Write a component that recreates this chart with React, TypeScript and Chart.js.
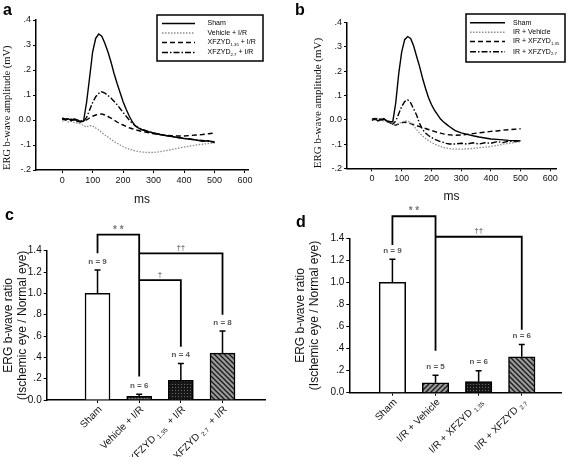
import React, { useEffect, useRef } from 'react';
import { Chart, registerables } from 'chart.js';

Chart.register(...registerables);

const SANS = '"Liberation Sans", Arial, Helvetica, sans-serif';
const SERIF = '"Liberation Serif", "Times New Roman", serif';

// ---------- DATA: ERG waveforms (panels a, b) ----------
const msTimes = [0, 10, 20, 30, 40, 50, 60, 70, 80, 90, 100, 110, 120, 130, 140, 150, 160, 170, 180, 190, 200, 210, 220, 230, 240, 250, 260, 280, 300, 320, 340, 360, 380, 400, 420, 440, 460, 480, 500];
const msTicks = [0, 100, 200, 300, 400, 500, 600];
const ampTicks = [-0.2, -0.1, 0, 0.1, 0.2, 0.3, 0.4];

const shamA = [0.005, 0.0, 0.005, -0.003, 0.003, -0.005, -0.008, -0.005, 0.07, 0.17, 0.273, 0.327, 0.344, 0.335, 0.307, 0.273, 0.233, 0.187, 0.147, 0.11, 0.073, 0.043, 0.016, -0.007, -0.024, -0.032, -0.038, -0.046, -0.052, -0.058, -0.062, -0.066, -0.07, -0.074, -0.077, -0.08, -0.085, -0.083, -0.09];
const vehicleA = [-0.005, 0.0, -0.008, -0.005, -0.01, -0.012, -0.015, -0.022, -0.028, -0.022, -0.024, -0.032, -0.04, -0.05, -0.06, -0.068, -0.077, -0.086, -0.093, -0.1, -0.107, -0.112, -0.117, -0.12, -0.124, -0.126, -0.128, -0.13, -0.13, -0.127, -0.123, -0.118, -0.113, -0.108, -0.104, -0.1, -0.097, -0.094, -0.092];
const xf135A = [0.005, 0.003, 0.0, 0.003, 0.0, -0.003, -0.005, -0.005, 0.0, 0.008, 0.015, 0.02, 0.023, 0.024, 0.02, 0.014, 0.008, 0.0, -0.008, -0.015, -0.02, -0.026, -0.031, -0.035, -0.039, -0.042, -0.045, -0.05, -0.055, -0.058, -0.061, -0.063, -0.064, -0.064, -0.062, -0.06, -0.058, -0.055, -0.052];
const xf27A = [0.008, 0.003, 0.006, 0.0, 0.004, 0.0, -0.004, -0.005, 0.01, 0.04, 0.07, 0.093, 0.107, 0.113, 0.108, 0.098, 0.088, 0.075, 0.062, 0.046, 0.03, 0.015, 0.0, -0.013, -0.023, -0.03, -0.036, -0.045, -0.052, -0.057, -0.062, -0.066, -0.07, -0.073, -0.076, -0.08, -0.082, -0.085, -0.087];

const shamB = [-0.003, 0.005, -0.005, 0.0, 0.003, -0.005, -0.007, -0.008, 0.07, 0.19, 0.28, 0.33, 0.343, 0.335, 0.305, 0.262, 0.22, 0.172, 0.13, 0.092, 0.063, 0.04, 0.022, 0.004, -0.008, -0.018, -0.028, -0.045, -0.054, -0.06, -0.066, -0.071, -0.075, -0.079, -0.081, -0.083, -0.085, -0.086, -0.087];
const vehicleB = [0.0, 0.005, -0.003, 0.002, -0.004, -0.006, -0.01, -0.015, -0.02, -0.015, -0.01, -0.005, -0.005, -0.012, -0.025, -0.04, -0.055, -0.067, -0.077, -0.086, -0.093, -0.1, -0.105, -0.11, -0.114, -0.117, -0.119, -0.121, -0.121, -0.12, -0.118, -0.115, -0.113, -0.11, -0.106, -0.101, -0.097, -0.093, -0.09];
const xf135B = [0.0, 0.005, 0.0, 0.003, -0.003, -0.008, -0.012, -0.02, -0.022, -0.018, -0.013, -0.01, -0.012, -0.016, -0.02, -0.024, -0.028, -0.032, -0.036, -0.04, -0.044, -0.048, -0.052, -0.055, -0.058, -0.06, -0.062, -0.064, -0.063, -0.06, -0.057, -0.054, -0.051, -0.048, -0.046, -0.043, -0.041, -0.039, -0.037];
const xf27B = [0.005, 0.0, 0.008, -0.003, 0.005, -0.005, -0.01, -0.018, -0.005, 0.025, 0.055, 0.075, 0.082, 0.07, 0.045, 0.02, -0.015, -0.04, -0.055, -0.065, -0.073, -0.08, -0.085, -0.09, -0.093, -0.097, -0.1, -0.1, -0.097, -0.1, -0.095, -0.1, -0.095, -0.097, -0.09, -0.094, -0.088, -0.09, -0.087];

const legendA = [
  [{ t: 'Sham' }],
  [{ t: 'Vehicle + I/R' }],
  [{ t: 'XFZYD' }, { t: '1.35', sub: true }, { t: ' + I/R' }],
  [{ t: 'XFZYD' }, { t: '2.7', sub: true }, { t: ' + I/R' }],
];
const legendB = [
  [{ t: 'Sham' }],
  [{ t: 'IR + Vehicle' }],
  [{ t: 'IR + XFZYD' }, { t: '1.35', sub: true }],
  [{ t: 'IR + XFZYD' }, { t: '2.7', sub: true }],
];

// ---------- DATA: b-wave ratio bars (panels c, d) ----------
const ratioTicks = [0, 0.2, 0.4, 0.6, 0.8, 1.0, 1.2, 1.4];
const groupsC = [
  [{ t: 'Sham' }],
  [{ t: 'Vehicle + I/R' }],
  [{ t: 'XFZYD ' }, { t: '1.35', sub: true }, { t: '  + I/R' }],
  [{ t: 'XFZYD ' }, { t: '2.7', sub: true }, { t: '  + I/R' }],
];
const ratioC = [1.0, 0.035, 0.185, 0.44];
const errC = [0.22, 0.02, 0.158, 0.208];
const nC = [9, 6, 4, 8];
const bracketsC = [
  { from: 0, to: 1, top: 1.55, fromEnd: 1.375, toEnd: 0.22, label: '* *' },
  { from: 1, to: 3, top: 1.375, fromEnd: null, toEnd: 0.8, label: '††' },
  { from: 1, to: 2, top: 1.125, fromEnd: null, toEnd: 0.5, label: '†' },
];

const groupsD = [
  [{ t: 'Sham' }],
  [{ t: 'I/R + Vehicle' }],
  [{ t: 'I/R + XFZYD ' }, { t: '1.35', sub: true }],
  [{ t: 'I/R + XFZYD ' }, { t: '2.7', sub: true }],
];
const ratioD = [1.0, 0.09, 0.1, 0.325];
const errD = [0.21, 0.068, 0.1, 0.113];
const nD = [9, 5, 6, 6];
const bracketsD = [
  { from: 0, to: 1, top: 1.6, fromEnd: 1.34, toEnd: 0.38, label: '* *' },
  { from: 1, to: 3, top: 1.414, fromEnd: null, toEnd: 0.57, label: '††' },
];

// ---------- styles ----------
const LINE_STYLES = [
  { color: '#000000', dash: [], width: 1.4 },
  { color: '#8c8c8c', dash: [1.5, 1.5], width: 1.3 },
  { color: '#000000', dash: [5, 3], width: 1.4 },
  { color: '#000000', dash: [6, 2, 1.5, 2], width: 1.4 },
];

type Part = { t: string; sub?: boolean };

function drawRich(ctx: CanvasRenderingContext2D, parts: Part[], x: number, y: number, size: number, align: 'left' | 'right', color: string) {
  const subSize = size * 0.62;
  const widths = parts.map((p) => {
    ctx.font = `${p.sub ? subSize : size}px ${SANS}`;
    return ctx.measureText(p.t).width;
  });
  const total = widths.reduce((a, b) => a + b, 0);
  let cx = align === 'right' ? x - total : x;
  ctx.fillStyle = color;
  ctx.textAlign = 'left';
  ctx.textBaseline = 'middle';
  parts.forEach((p, i) => {
    ctx.font = `${p.sub ? subSize : size}px ${SANS}`;
    ctx.fillText(p.t, cx, p.sub ? y + size * 0.3 : y);
    cx += widths[i];
  });
}

function makePattern(kind: string): any {
  const c = document.createElement('canvas');
  const s = kind === 'stipple' || kind === 'cross' ? 3 : 5;
  c.width = s;
  c.height = s;
  const g = c.getContext('2d')!;
  if (kind === 'stipple') {
    g.fillStyle = '#4a4a4a';
    g.fillRect(0, 0, s, s);
    g.fillStyle = '#8a8a8a';
    g.fillRect(0, 0, 1, 1);
    g.fillStyle = '#1a1a1a';
    g.fillRect(1, 2, 1, 1);
  } else if (kind === 'cross') {
    g.fillStyle = '#161616';
    g.fillRect(0, 0, s, s);
    g.fillStyle = '#6a6a6a';
    g.fillRect(1, 1, 1, 1);
  } else {
    g.fillStyle = '#9a9a9a';
    g.fillRect(0, 0, s, s);
    g.strokeStyle = '#1a1a1a';
    g.lineWidth = 1.3;
    g.beginPath();
    if (kind === 'back') {
      g.moveTo(0, 0); g.lineTo(s, s);
      g.moveTo(-1, s - 1); g.lineTo(1, s + 1);
      g.moveTo(s - 1, -1); g.lineTo(s + 1, 1);
    } else {
      g.moveTo(0, s); g.lineTo(s, 0);
      g.moveTo(-1, 1); g.lineTo(1, -1);
      g.moveTo(s - 1, s + 1); g.lineTo(s + 1, s - 1);
    }
    g.stroke();
  }
  return g.createPattern(c, 'repeat');
}

function fmtAmp(v: number) {
  if (Math.abs(v) < 1e-9) return '0.0';
  return (v < 0 ? '-' : '') + '.' + Math.round(Math.abs(v) * 10);
}
function fmtRatio(v: number) {
  if (Math.abs(v) < 1e-9) return '0.0';
  if (v < 0.999) return '.' + Math.round(v * 10);
  return v.toFixed(1);
}

function legendPlugin(legend: Part[][], box: any) {
  return {
    id: 'boxLegend',
    afterDraw(chart: any) {
      const ctx = chart.ctx as CanvasRenderingContext2D;
      ctx.save();
      ctx.fillStyle = '#fff';
      ctx.fillRect(box.x, box.y, box.w, box.h);
      ctx.strokeStyle = '#000';
      ctx.lineWidth = 1.5;
      ctx.setLineDash([]);
      ctx.strokeRect(box.x, box.y, box.w, box.h);
      legend.forEach((parts, i) => {
        const ds = chart.data.datasets[i];
        const y = box.rows[i];
        ctx.beginPath();
        ctx.setLineDash(ds.borderDash || []);
        ctx.strokeStyle = ds.borderColor;
        ctx.lineWidth = 1.6;
        ctx.moveTo(box.lx1, y);
        ctx.lineTo(box.lx2, y);
        ctx.stroke();
        ctx.setLineDash([]);
        drawRich(ctx, parts, box.tx, y, 7, 'left', '#000');
      });
      ctx.restore();
    },
  };
}

function lineConfig(p: any): any {
  return {
    type: 'line',
    data: {
      datasets: p.series.map((vals: number[], i: number) => ({
        label: p.legend[i].map((q: Part) => q.t).join(''),
        data: msTimes.map((t, j) => ({ x: t, y: vals[j] })),
        borderColor: LINE_STYLES[i].color,
        borderDash: LINE_STYLES[i].dash,
        borderWidth: LINE_STYLES[i].width,
        pointRadius: 0,
        fill: false,
        tension: 0,
      })),
    },
    options: {
      responsive: false,
      animation: false,
      layout: { padding: p.pad },
      plugins: { legend: { display: false }, tooltip: { enabled: false } },
      scales: {
        x: {
          type: 'linear',
          min: p.xMin,
          max: p.xMax,
          bounds: 'data',
          afterBuildTicks: (s: any) => { s.ticks = msTicks.map((v) => ({ value: v })); },
          ticks: { font: { size: 9, family: SANS }, color: '#111', padding: 2, maxRotation: 0, autoSkip: false },
          grid: { display: true, drawOnChartArea: false, drawTicks: true, tickLength: 3, color: '#000', lineWidth: 1 },
          border: { display: true, color: '#000', width: 1.5 },
          title: { display: true, text: 'ms', font: { size: 12, family: SANS }, color: '#111', padding: { top: 0, bottom: p.msPad } },
          afterFit: (s: any) => { s.height = p.xH; s.paddingLeft = 0; s.paddingRight = 0; },
        },
        y: {
          type: 'linear',
          min: -0.2,
          max: 0.4,
          bounds: 'data',
          afterBuildTicks: (s: any) => { s.ticks = ampTicks.map((v) => ({ value: v })); },
          ticks: { font: { size: 9, family: SANS }, color: '#111', padding: 2, callback: (v: number) => fmtAmp(v) },
          grid: { display: true, drawOnChartArea: false, drawTicks: true, tickLength: 3, color: '#000', lineWidth: 1 },
          border: { display: true, color: '#000', width: 1.5 },
          title: { display: true, text: 'ERG b-wave amplitude (mV)', align: 'start', font: { size: p.yTitleSize, family: SERIF }, color: '#111', padding: { top: p.yTitlePad, bottom: 0 } },
          afterFit: (s: any) => { s.width = p.yW; s.paddingTop = 0; s.paddingBottom = 0; },
        },
      },
    },
    plugins: [legendPlugin(p.legend, p.box)],
  };
}

function barExtras(p: any) {
  return {
    id: 'barExtras',
    afterDraw(chart: any) {
      const ctx = chart.ctx as CanvasRenderingContext2D;
      const xs = chart.scales.x;
      const ys = chart.scales.y;
      ctx.save();
      ctx.setLineDash([]);
      // error bars + n labels
      p.values.forEach((v: number, i: number) => {
        const x = xs.getPixelForValue(i);
        const y0 = ys.getPixelForValue(v);
        const y1 = ys.getPixelForValue(v + p.errors[i]);
        ctx.strokeStyle = '#000';
        ctx.lineWidth = 1.5;
        ctx.beginPath();
        ctx.moveTo(x, y0);
        ctx.lineTo(x, y1);
        ctx.moveTo(x - 3, y1);
        ctx.lineTo(x + 3, y1);
        ctx.stroke();
        ctx.fillStyle = '#555';
        ctx.font = `bold 8px ${SANS}`;
        ctx.textAlign = 'center';
        ctx.textBaseline = 'middle';
        ctx.fillText('n = ' + p.ns[i], x, y1 - 8.5);
      });
      // significance brackets
      p.brackets.forEach((b: any) => {
        const xa = xs.getPixelForValue(b.from);
        const xb = xs.getPixelForValue(b.to);
        const yt = ys.getPixelForValue(b.top);
        ctx.strokeStyle = '#000';
        ctx.lineWidth = 1.8;
        ctx.beginPath();
        if (b.fromEnd != null) {
          ctx.moveTo(xa, ys.getPixelForValue(b.fromEnd));
          ctx.lineTo(xa, yt);
        } else {
          ctx.moveTo(xa, yt);
        }
        ctx.lineTo(xb, yt);
        ctx.lineTo(xb, ys.getPixelForValue(b.toEnd));
        ctx.stroke();
        ctx.fillStyle = '#777';
        ctx.font = `bold ${b.label.indexOf('*') >= 0 ? 10 : 8}px ${SANS}`;
        ctx.textAlign = 'center';
        ctx.textBaseline = 'middle';
        ctx.fillText(b.label, (xa + xb) / 2, yt - (b.label.indexOf('*') >= 0 ? 4.5 : 5.5));
      });
      // rotated category labels
      p.groups.forEach((parts: Part[], i: number) => {
        const x = xs.getPixelForValue(i);
        ctx.save();
        ctx.translate(x + 3, xs.top + 8);
        ctx.rotate(-Math.PI / 4);
        drawRich(ctx, parts, 0, 0, 10, 'right', '#111');
        ctx.restore();
      });
      ctx.restore();
    },
  };
}

function barConfig(p: any): any {
  return {
    type: 'bar',
    data: {
      datasets: [{
        label: 'ERG b-wave ratio',
        data: p.values.map((v: number, i: number) => ({ x: i, y: v })),
        backgroundColor: p.fills,
        borderColor: '#000',
        borderWidth: 1.5,
        barThickness: p.barW,
      }],
    },
    options: {
      responsive: false,
      animation: false,
      layout: { padding: p.pad },
      plugins: { legend: { display: false }, tooltip: { enabled: false } },
      scales: {
        x: {
          type: 'linear',
          min: p.xMin,
          max: p.xMax,
          bounds: 'data',
          offset: false,
          afterBuildTicks: (s: any) => { s.ticks = p.values.map((_: number, i: number) => ({ value: i })); },
          ticks: { display: false },
          grid: { display: true, offset: false, drawOnChartArea: false, drawTicks: true, tickLength: 3, color: '#000', lineWidth: 1 },
          border: { display: true, color: '#000', width: 1.5 },
          afterFit: (s: any) => { s.height = p.xH; s.paddingLeft = 0; s.paddingRight = 0; },
        },
        y: {
          type: 'linear',
          min: 0,
          max: 1.4,
          bounds: 'data',
          afterBuildTicks: (s: any) => { s.ticks = ratioTicks.map((v) => ({ value: v })); },
          ticks: { font: { size: 10, family: SANS }, color: '#111', padding: 2, callback: (v: number) => fmtRatio(v) },
          grid: { display: true, drawOnChartArea: false, drawTicks: true, tickLength: 3, color: '#000', lineWidth: 1 },
          border: { display: true, color: '#000', width: 1.5 },
          title: { display: true, text: ['ERG b-wave ratio', '(Ischemic eye / Normal eye)'], font: { size: 12, family: SANS }, color: '#111', padding: { top: 1, bottom: 0 } },
          afterFit: (s: any) => { s.width = p.yW; s.paddingTop = 0; s.paddingBottom = 0; },
        },
      },
    },
    plugins: [barExtras(p)],
  };
}

const letterStyle: any = { position: 'absolute', font: `bold 16px ${SANS}`, lineHeight: '16px', color: '#000' };

export default function App() {
  const refA = useRef<HTMLCanvasElement>(null);
  const refB = useRef<HTMLCanvasElement>(null);
  const refC = useRef<HTMLCanvasElement>(null);
  const refD = useRef<HTMLCanvasElement>(null);

  useEffect(() => {
    const stipple = makePattern('stipple');
    const cross = makePattern('cross');
    const back = makePattern('back');
    const fwd = makePattern('fwd');

    const charts: Chart[] = [];
    charts.push(new Chart(refA.current!, lineConfig({
      series: [shamA, vehicleA, xf135A, xf27A],
      legend: legendA,
      pad: { left: 0, right: 35, top: 20, bottom: 0 },
      xMin: -86, xMax: 610, xH: 58, msPad: 20.8,
      yW: 36, yTitleSize: 10.5, yTitlePad: 0.7,
      box: { x: 157, y: 15, w: 106, h: 46, lx1: 162, lx2: 195, tx: 207.5, rows: [23.5, 33, 42.5, 52.5] },
    })));
    charts.push(new Chart(refB.current!, lineConfig({
      series: [shamB, vehicleB, xf135B, xf27B],
      legend: legendB,
      pad: { left: 28, right: 11, top: 22.7, bottom: 0 },
      xMin: -84, xMax: 619, xH: 59.7, msPad: 24.1,
      yW: 36, yTitleSize: 11, yTitlePad: 0.4,
      box: { x: 183, y: 14, w: 99, h: 48, lx1: 187, lx2: 222, tx: 230, rows: [22.7, 32.3, 41.5, 51.7] },
    })));
    charts.push(new Chart(refC.current!, barConfig({
      values: ratioC, errors: errC, ns: nC, brackets: bracketsC, groups: groupsC,
      fills: ['#ffffff', stipple, cross, back],
      pad: { left: 0, right: 18, top: 50.7, bottom: 0 },
      xMin: -1.22, xMax: 4.02, xH: 57, yW: 46.7, barW: 25,
    })));
    charts.push(new Chart(refD.current!, barConfig({
      values: ratioD, errors: errD, ns: nD, brackets: bracketsD, groups: groupsD,
      fills: ['#ffffff', fwd, cross, back],
      pad: { left: 9, right: 6, top: 38.3, bottom: 0 },
      xMin: -1.0, xMax: 3.91, xH: 64.3, yW: 57.3, barW: 26.5,
    })));
    return () => charts.forEach((c) => c.destroy());
  }, []);

  return (
    <div style={{ position: 'fixed', left: 0, top: 0, width: 567, height: 457, background: '#fff', overflow: 'hidden' }}>
      <canvas ref={refA} width={283} height={228} style={{ position: 'absolute', left: 0, top: 0, width: 283, height: 228 }} />
      <canvas ref={refB} width={284} height={228} style={{ position: 'absolute', left: 283, top: 0, width: 284, height: 228 }} />
      <canvas ref={refC} width={283} height={257} style={{ position: 'absolute', left: 0, top: 200, width: 283, height: 257 }} />
      <canvas ref={refD} width={284} height={257} style={{ position: 'absolute', left: 283, top: 200, width: 284, height: 257 }} />
      <div style={{ ...letterStyle, left: 3, top: 1.5 }}>a</div>
      <div style={{ ...letterStyle, left: 295, top: 1.5 }}>b</div>
      <div style={{ ...letterStyle, left: 5, top: 206.5 }}>c</div>
      <div style={{ ...letterStyle, left: 296, top: 213.5 }}>d</div>
    </div>
  );
}
